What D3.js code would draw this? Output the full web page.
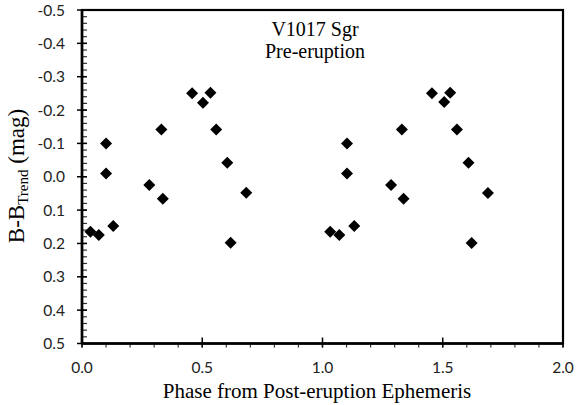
<!DOCTYPE html>
<html><head><meta charset="utf-8">
<script src="https://cdn.jsdelivr.net/npm/d3@7"></script>
<style>html,body{margin:0;padding:0;background:#fff;}svg{display:block;}</style>
</head><body>
<svg id="c" width="576" height="405"></svg>
<script>
// Data
const phase = [0.035, 0.070, 0.100, 0.100, 0.130, 0.280, 0.330, 0.336, 0.458, 0.503, 0.534, 0.558, 0.604, 0.618, 0.683,
               1.032, 1.070, 1.102, 1.102, 1.132, 1.285, 1.330, 1.337, 1.455, 1.506, 1.531, 1.559, 1.607, 1.620, 1.688];
const dmag  = [0.165, 0.175, -0.100, -0.010, 0.148, 0.025, -0.142, 0.066, -0.250, -0.222, -0.252, -0.142, -0.042, 0.198, 0.048,
               0.165, 0.175, -0.100, -0.010, 0.148, 0.025, -0.142, 0.066, -0.250, -0.224, -0.252, -0.142, -0.042, 0.199, 0.049];
const xTicks = [0.0, 0.5, 1.0, 1.5, 2.0];
const yTicks = [-0.5, -0.4, -0.3, -0.2, -0.1, 0.0, 0.1, 0.2, 0.3, 0.4, 0.5];
const titleLines = ["V1017 Sgr", "Pre-eruption"];
const xLabel = "Phase from Post-eruption Ephemeris";

const svg = d3.select("#c");
const m = {l: 82, r: 13, t: 10, b: 61.5};
const W = 576, H = 405;
const x = d3.scaleLinear().domain([0, 2]).range([m.l, W - m.r]);
const y = d3.scaleLinear().domain([-0.5, 0.5]).range([m.t, H - m.b]);

const fmt = v => d3.format(".1f")(v).replace("\u2212", "-");
const sans = "Lato, 'Open Sans', sans-serif";
const serif = "'Liberation Serif', 'Times New Roman', serif";

// frame
svg.append("rect").attr("x", x(0)).attr("y", y(-0.5))
  .attr("width", x(2) - x(0)).attr("height", y(0.5) - y(-0.5))
  .attr("fill", "none").attr("stroke", "#000").attr("stroke-width", 2.2);

// y minor ticks (inside)
const yMinor = d3.range(-0.5, 0.5001, 0.02);
svg.append("g").selectAll("line").data(yMinor).join("line")
  .attr("x1", x(0)).attr("x2", x(0) + 5)
  .attr("y1", d => y(d)).attr("y2", d => y(d))
  .attr("stroke", "#333").attr("stroke-width", 1.2);
// y major ticks (cross)
svg.append("g").selectAll("line").data(yTicks).join("line")
  .attr("x1", x(0) - 5).attr("x2", x(0) + 5)
  .attr("y1", d => y(d)).attr("y2", d => y(d))
  .attr("stroke", "#000").attr("stroke-width", 1.5);
// y labels
svg.append("g").selectAll("text").data(yTicks).join("text")
  .attr("x", 65).attr("y", d => y(d) + 5.5)
  .attr("text-anchor", "end").attr("font-family", sans).attr("font-size", 15.5)
  .attr("fill", "#222").text(fmt);

// x minor ticks (outside)
const xMinor = d3.range(0, 2.0001, 0.1);
svg.append("g").selectAll("line").data(xMinor).join("line")
  .attr("x1", d => x(d)).attr("x2", d => x(d))
  .attr("y1", y(0.5)).attr("y2", y(0.5) + 4)
  .attr("stroke", "#333").attr("stroke-width", 1.2);
// x major ticks (cross)
svg.append("g").selectAll("line").data(xTicks).join("line")
  .attr("x1", d => x(d)).attr("x2", d => x(d))
  .attr("y1", y(0.5) - 6).attr("y2", y(0.5) + 4)
  .attr("stroke", "#000").attr("stroke-width", 1.5);
svg.append("g").selectAll("text").data(xTicks).join("text")
  .attr("x", d => x(d)).attr("y", 372.5)
  .attr("text-anchor", "middle").attr("font-family", sans).attr("font-size", 15.5)
  .attr("fill", "#222").text(fmt);

// axis lines thicker
svg.append("line").attr("x1", x(0)).attr("x2", x(0)).attr("y1", y(-0.5)).attr("y2", y(0.5))
  .attr("stroke", "#000").attr("stroke-width", 2.6);
svg.append("line").attr("x1", x(0)).attr("x2", x(2)).attr("y1", y(0.5)).attr("y2", y(0.5))
  .attr("stroke", "#000").attr("stroke-width", 2.6);

// points (diamonds)
const pts = phase.map((p, i) => ({p, v: dmag[i]}));
const sym = d3.symbol().type(d3.symbolSquare).size(72);
svg.append("g").selectAll("path").data(pts).join("path")
  .attr("d", sym)
  .attr("transform", d => `translate(${x(d.p)},${y(d.v)}) rotate(45)`)
  .attr("fill", "#000");

// title
svg.append("g").selectAll("text").data(titleLines).join("text")
  .attr("x", 315).attr("y", (d, i) => 36 + i * 22)
  .attr("text-anchor", "middle").attr("font-family", serif).attr("font-size", 20)
  .attr("fill", "#000").text(d => d);

// x label
svg.append("text").attr("x", 317).attr("y", 398)
  .attr("text-anchor", "middle").attr("font-family", serif).attr("font-size", 21)
  .attr("fill", "#000").text(xLabel);

// y label
const yl = svg.append("text")
  .attr("transform", "translate(24,176) rotate(-90)")
  .attr("text-anchor", "middle").attr("font-family", serif).attr("font-size", 23).attr("fill", "#000");
yl.append("tspan").text("B-B");
yl.append("tspan").attr("font-size", 15).attr("dy", 4).text("Trend");
yl.append("tspan").attr("dy", -4).text(" (mag)");
</script>
</body></html>
